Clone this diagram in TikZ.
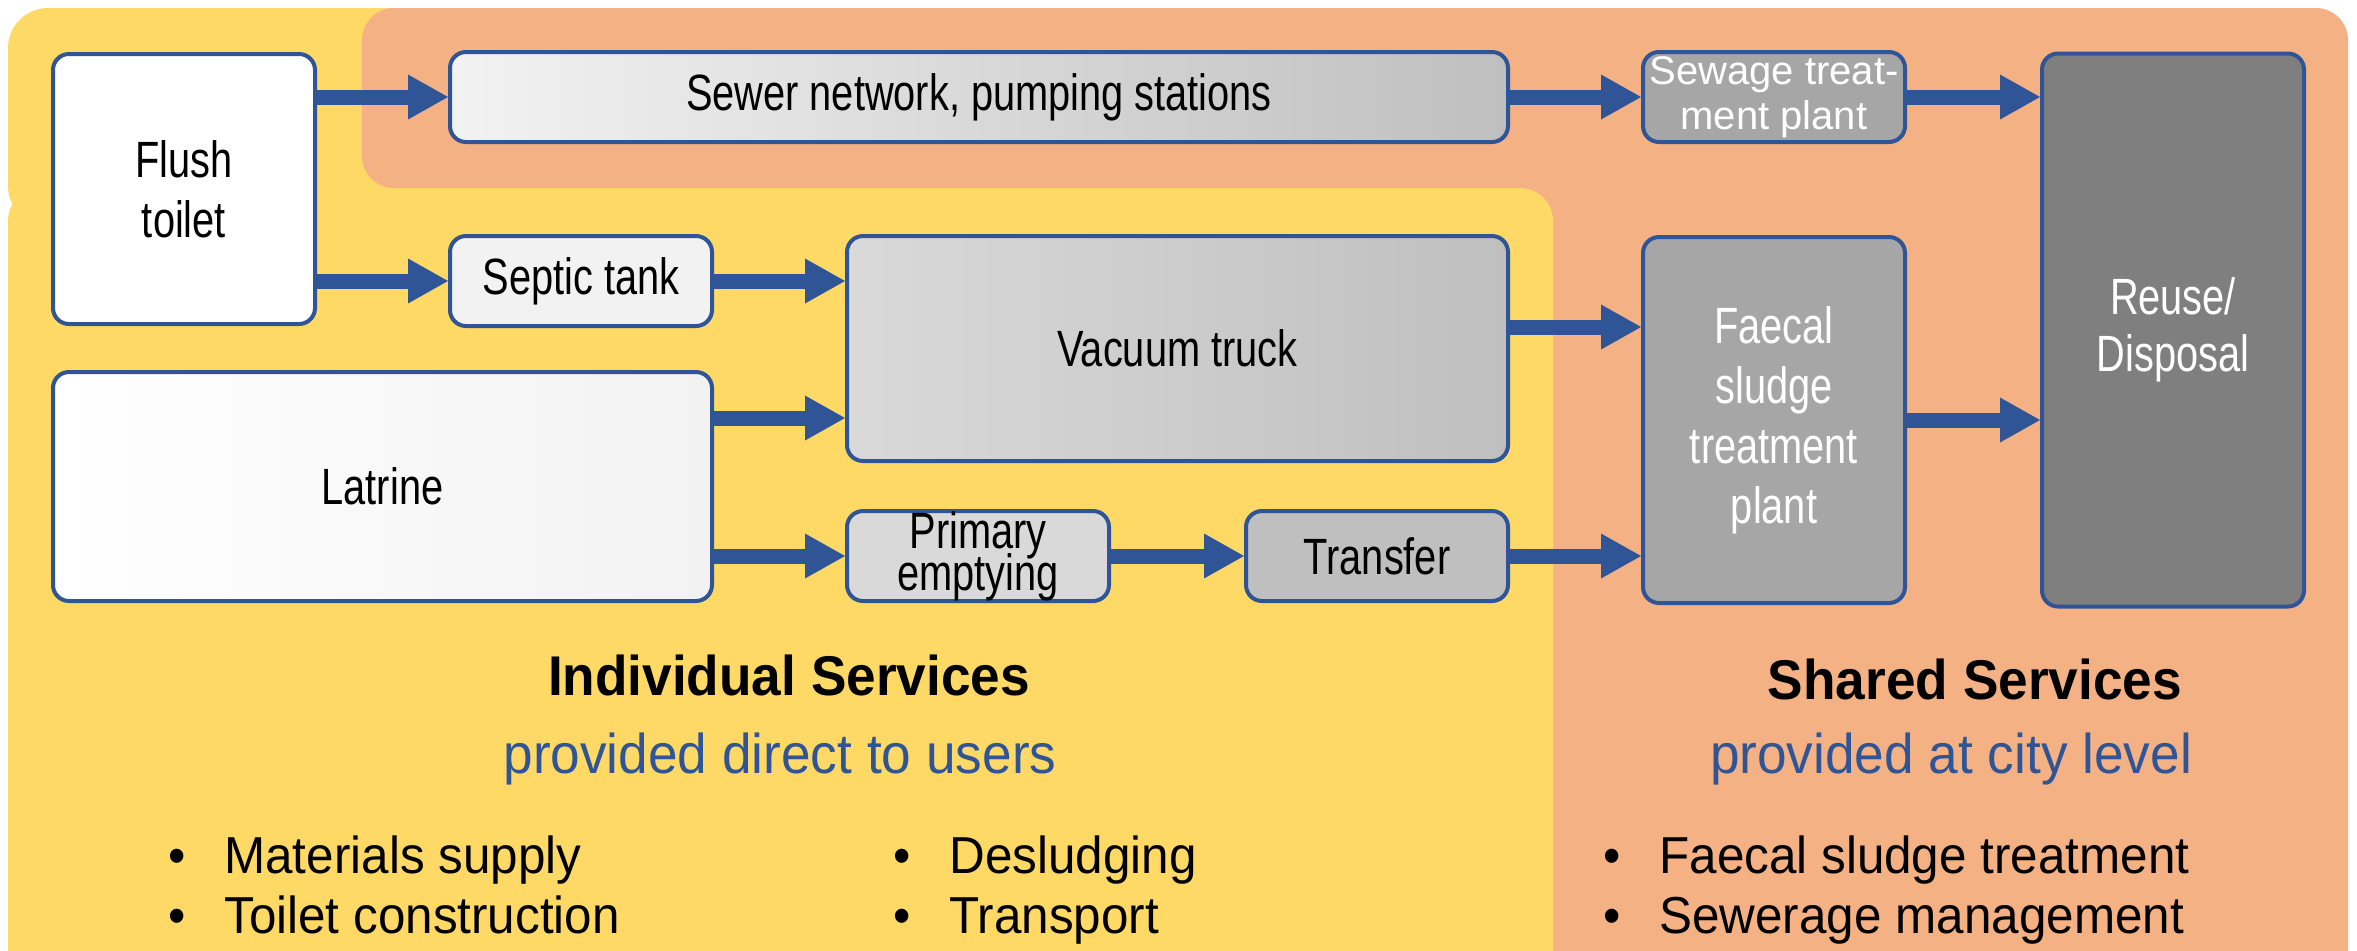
\documentclass[tikz,border=0pt]{standalone}
\usepackage{fontspec}
\setmainfont{Liberation Sans}
\newfontfamily\narrowsf{Liberation Sans}[FakeStretch=0.78]
\newfontfamily\labelsf{Liberation Sans}[FakeStretch=0.95]
\usepackage{xcolor}
\usetikzlibrary{arrows.meta}

\definecolor{goldbg}{RGB}{255,217,102}
\definecolor{orangebg}{RGB}{244,177,131}
\definecolor{flowblue}{RGB}{47,85,151}
\definecolor{grayA}{RGB}{242,242,242}
\definecolor{grayB}{RGB}{217,217,217}
\definecolor{grayC}{RGB}{191,191,191}
\definecolor{grayD}{RGB}{166,166,166}
\definecolor{grayE}{RGB}{127,127,127}

\newcommand{\flowfont}{\narrowsf\fontsize{25.5pt}{30pt}\selectfont}
\newcommand{\tightfont}{\narrowsf\fontsize{25.5pt}{21pt}\selectfont\lineskiplimit=-20pt\relax}
\newcommand{\itembullet}{\makebox[28pt][l]{\textbullet}}

\tikzset{
	box/.style={draw=flowblue, line width=2pt, rounded corners=8pt, inner sep=0pt, align=center, font=\flowfont},
	darkbox/.style={box, text=white},
	flow/.style={draw=flowblue, line width=7.5pt, -{Triangle[width=22.5pt,length=20pt,line width=0pt]}},
	heading/.style={anchor=base, inner sep=0pt, font=\labelsf\bfseries\fontsize{28pt}{34pt}\selectfont},
	subheading/.style={anchor=base, inner sep=0pt, text=flowblue, font=\labelsf\fontsize{28pt}{34pt}\selectfont},
	item/.style={anchor=base west, inner sep=0pt, font=\labelsf\fontsize{26pt}{30pt}\selectfont}
}

\begin{document}
\begin{tikzpicture}[x=0.5pt,y=0.5pt,yscale=-1]
	\path[use as bounding box, clip] (0,0) rectangle (2357,950);

	%Shape: individual area, upper part
	\fill[goldbg, rounded corners=20pt] (8,8) rectangle (600,226);
	%Shape: shared area
	\fill[orangebg, rounded corners=16pt] (362,8) -- (2348,8) -- (2348,990) -- (1400,990) -- (1400,188) -- (362,188) -- cycle;
	%Shape: individual area, lower part
	\fill[goldbg, rounded corners=16.5pt] (8,188) rectangle (1553,990);

	% Boxes
	\node[box, fill=white, minimum width=131pt, minimum height=135pt] (flush) at (184,189) {Flush\\toilet};
	\node[box, left color=grayA, right color=grayC, minimum width=529pt, minimum height=45pt] (sewer) at (979,97) {Sewer network, pumping stations};
	\node[darkbox, fill=grayD, minimum width=131pt, minimum height=45pt, font=\fontsize{20pt}{22.5pt}\selectfont] (sewage) at (1774,97) {Sewage treat-\\ment plant};
	\node[darkbox, fill=grayE, minimum width=131pt, minimum height=276.5pt, font=\narrowsf\fontsize{25.5pt}{28.5pt}\selectfont] (reuse) at (2173,330) {Reuse/\\Disposal};
	\node[box, fill=grayA, minimum width=131pt, minimum height=45pt] (septic) at (581,281) {Septic tank};
	\node[box, left color=grayB, right color=grayC, minimum width=330.5pt, minimum height=112.5pt] (vacuum) at (1177.5,348.5) {Vacuum truck};
	\node[darkbox, fill=grayD, minimum width=131pt, minimum height=183pt] (faecal) at (1774,420) {Faecal\\sludge\\treatment\\plant};
	\node[box, left color=white, right color=grayA, minimum width=329.5pt, minimum height=114.5pt] (latrine) at (382.5,486.5) {Latrine};
	\node[box, fill=grayB, minimum width=131pt, minimum height=45pt, font=\tightfont] (primary) at (978,556) {Primary\\emptying};
	\node[box, fill=grayC, minimum width=131pt, minimum height=45pt] (transfer) at (1377,556) {Transfer};

	% Connectors
	\coordinate (lat2vac) at (0,418);
	\coordinate (vac2fs) at (0,327);
	\draw[flow] (flush.east |- sewer) -- (sewer.west);
	\draw[flow] (flush.east |- septic) -- (septic.west);
	\draw[flow] (septic.east) -- (vacuum.west |- septic);
	\draw[flow] (latrine.east |- lat2vac) -- (vacuum.west |- lat2vac);
	\draw[flow] (latrine.east |- primary) -- (primary.west);
	\draw[flow] (primary.east) -- (transfer.west);
	\draw[flow] (sewer.east) -- (sewage.west);
	\draw[flow] (vacuum.east |- vac2fs) -- (faecal.west |- vac2fs);
	\draw[flow] (transfer.east) -- (faecal.west |- transfer);
	\draw[flow] (sewage.east) -- (reuse.west |- sewage);
	\draw[flow] (faecal.east) -- (reuse.west |- faecal);

	% Text Node
	\node[heading] (indiv) at (789,695) {Individual Services};
	\node[subheading] (indivsub) at (780,773) {provided direct to users};
	\node[heading] (shared) at (1975,699) {Shared Services};
	\node[subheading] (sharedsub) at (1951,773) {provided at city level};

	% Text Node
	\node[item] (materials) at (168,873) {\itembullet Materials supply};
	\node[item] (construction) at (168,933) {\itembullet Toilet construction};
	\node[item] (desludging) at (893,873) {\itembullet Desludging};
	\node[item] (transport) at (893,933) {\itembullet Transport};
	\node[item] (fstreat) at (1603,873) {\itembullet Faecal sludge treatment};
	\node[item] (sewerage) at (1603,933) {\itembullet Sewerage management};
\end{tikzpicture}
\end{document}
